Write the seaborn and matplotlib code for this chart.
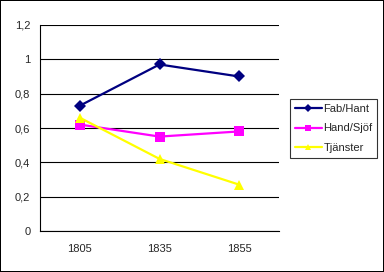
import matplotlib
matplotlib.use("Agg")
import matplotlib.pyplot as plt
import seaborn as sns
import pandas as pd
from matplotlib.lines import Line2D

years = ["1805", "1835", "1855"]
fab_hant = [0.73, 0.97, 0.90]
hand_sjof = [0.62, 0.55, 0.58]
tjanster = [0.66, 0.42, 0.27]
series_names = ["Fab/Hant", "Hand/Sjöf", "Tjänster"]
y_ticks = [0, 0.2, 0.4, 0.6, 0.8, 1.0, 1.2]
y_tick_labels = ["0", "0,2", "0,4", "0,6", "0,8", "1", "1,2"]

sns.set_style("white")
plt.rcParams['font.family'] = ['Liberation Sans', 'DejaVu Sans']
plt.rcParams['font.size'] = 8

rows = []
for name, vals in zip(series_names, [fab_hant, hand_sjof, tjanster]):
    for yr, v in zip(years, vals):
        rows.append({"År": yr, "Värde": v, "Serie": name})
df = pd.DataFrame(rows)

colors = {"Fab/Hant": "#000080", "Hand/Sjöf": "#FF00FF", "Tjänster": "#FFFF00"}
markers = {"Fab/Hant": "D", "Hand/Sjöf": "s", "Tjänster": "^"}

fig = plt.figure(figsize=(3.84, 2.72), dpi=100, facecolor="white",
                 edgecolor="black", linewidth=1.2)
ax = fig.add_axes([40/384, 41/272, (279-40)/384, (231-25)/272])

sns.lineplot(data=df, x="År", y="Värde", hue="Serie", style="Serie",
             palette=colors, markers=markers, dashes=False, ax=ax,
             linewidth=1.6, markersize=6.5, markeredgewidth=0, legend=False,
             sort=False)

ax.set_xlim(-0.5, 2.5)
ax.set_ylim(0, 1.2)
ax.set_yticks(y_ticks)
ax.set_yticklabels(y_tick_labels)
ax.set_xticks(range(len(years)))
ax.set_xticklabels(years)
ax.set_xticks([-0.5, 0.5, 1.5, 2.5], minor=True)
ax.tick_params(axis="x", which="major", length=0, pad=9, labelsize=8)
ax.tick_params(axis="x", which="minor", length=3, width=0.8, color="black", direction="out")
ax.tick_params(axis="y", which="major", length=3, width=0.8, color="black", direction="out", labelsize=8, pad=4)
ax.set_xlabel("")
ax.set_ylabel("")
ax.yaxis.grid(True, color="black", linewidth=0.8)
ax.xaxis.grid(False)
ax.set_axisbelow(True)
for s in ["top", "right"]:
    ax.spines[s].set_visible(False)
for s in ["left", "bottom"]:
    ax.spines[s].set_color("black")
    ax.spines[s].set_linewidth(0.8)

handles = [Line2D([0], [0], color=colors[n], marker=markers[n], markersize=4,
                  markeredgewidth=0, linewidth=1.6) for n in series_names]
leg = fig.legend(handles, series_names, loc="upper left",
                 bbox_to_anchor=(290/384, 1 - 99/272), frameon=True,
                 fancybox=False, shadow=False, handlelength=2.4,
                 handletextpad=0.15, borderpad=0.45, labelspacing=0.85,
                 fontsize=8, borderaxespad=0)
leg.get_frame().set_edgecolor("black")
leg.get_frame().set_linewidth(0.8)

fig.savefig("out.png", dpi=100, facecolor="white", edgecolor="black")
